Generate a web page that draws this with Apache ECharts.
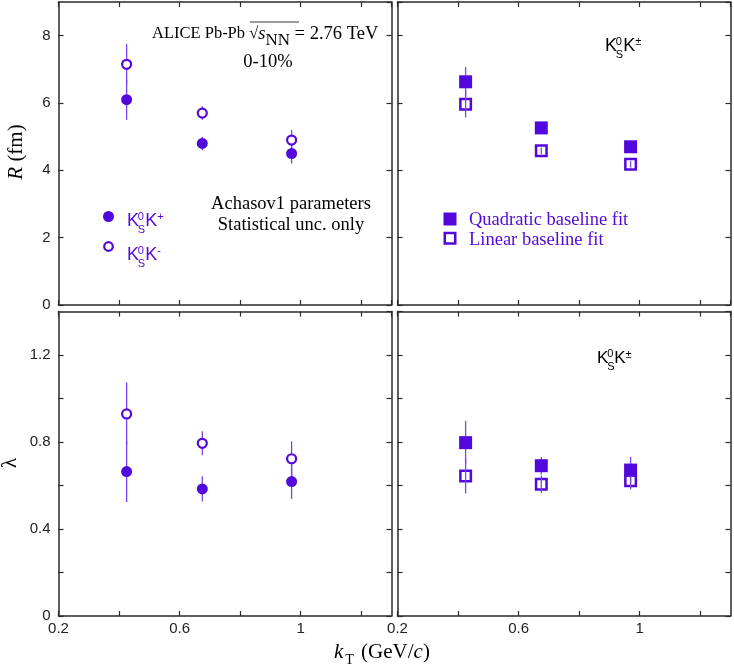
<!DOCTYPE html>
<html>
<head>
<meta charset="utf-8">
<script src="https://cdn.jsdelivr.net/npm/echarts@6/dist/echarts.min.js"></script>
<style>
html, body { margin: 0; padding: 0; background: #fff; }
#main { width: 734px; height: 671px; }
</style>
</head>
<body>
<div id="main"></div>
<script>
// kT bin centres (GeV/c)
var kT = [0.425, 0.675, 0.97];

// R (fm), Achasov1 parameters
var R_plus = [6.1, 4.8, 4.5];
var R_plus_err = [0.6, 0.2, 0.3];
var R_minus = [7.15, 5.7, 4.9];
var R_minus_err = [0.6, 0.2, 0.3];
var R_quad = [6.63, 5.26, 4.7];
var R_quad_err = [0.44, 0.1, 0.1];
var R_lin = [5.96, 4.58, 4.18];
var R_lin_err = [0.39, 0.1, 0.1];

// lambda
var lam_plus = [0.664, 0.584, 0.618];
var lam_plus_err = [0.14, 0.058, 0.08];
var lam_minus = [0.929, 0.794, 0.723];
var lam_minus_err = [0.145, 0.055, 0.08];
var lam_quad = [0.797, 0.691, 0.671];
var lam_quad_err = [0.1, 0.04, 0.06];
var lam_lin = [0.644, 0.606, 0.622];
var lam_lin_err = [0.08, 0.04, 0.04];

var purple = '#5208dc';
var barColor = '#7a44f0';
var axisColor = '#2a2a2a';
var serif = '"Liberation Serif", "Times New Roman", serif';
var sans = '"Liberation Sans", Arial, sans-serif';

var myChart = echarts.init(document.getElementById('main'));

var grids = [
    {left: 58.5, top: 2, width: 333, height: 303},
    {left: 397.5, top: 2, width: 333, height: 303},
    {left: 58.5, top: 311.5, width: 333, height: 304.5},
    {left: 397.5, top: 311.5, width: 333, height: 304.5}
];

function isStep(v, base, step) {
    var r = (v - base) / step;
    return Math.abs(r - Math.round(r)) < 1e-6;
}

var xAxes = [], yAxes = [];
// primary axes are index 2*g, mirror axes 2*g+1
for (var g = 0; g < 4; g++) {
    var bottomRow = g >= 2;
    var leftCol = g % 2 === 0;
    [false, true].forEach(function (mirror) {
        xAxes.push({
            type: 'value', gridIndex: g, min: 0.2, max: 1.3, interval: 0.2,
            position: mirror ? 'top' : 'bottom',
            axisLine: {show: true, onZero: false, lineStyle: {color: axisColor, width: 1.5}},
            axisTick: {show: true, inside: true, length: 5, lineStyle: {color: axisColor, width: 1.2}},
            splitLine: {show: false},
            axisLabel: {
                show: !mirror && bottomRow, margin: 5, color: '#222', fontSize: 15, fontFamily: sans,
                showMaxLabel: false,
                formatter: function (v) { return isStep(v, 0.2, 0.4) ? String(+v.toFixed(1)) : ''; }
            }
        });
        yAxes.push({
            type: 'value', gridIndex: g,
            min: 0, max: bottomRow ? 1.4 : 9, interval: bottomRow ? 0.2 : 2,
            position: mirror ? 'right' : 'left',
            axisLine: {show: true, onZero: false, lineStyle: {color: axisColor, width: 1.5}},
            axisTick: {show: true, inside: true, length: 5, lineStyle: {color: axisColor, width: 1.2}},
            splitLine: {show: false},
            axisLabel: {
                show: !mirror && leftCol, margin: 8, color: '#222', fontSize: 15, fontFamily: sans,
                showMaxLabel: false,
                formatter: function (v) {
                    if (bottomRow) return isStep(v, 0, 0.4) ? String(+v.toFixed(1)) : '';
                    return String(v);
                }
            }
        });
    });
}

function pts(xs, ys) {
    return xs.map(function (x, i) { return [x, ys[i]]; });
}
function errs(xs, ys, es) {
    return xs.map(function (x, i) { return [x, ys[i], es[i]]; });
}

function errorSeries(g, ys, es) {
    return {
        type: 'custom', xAxisIndex: 2 * g, yAxisIndex: 2 * g, z: 2,
        data: errs(kT, ys, es),
        encode: {x: 0, y: 1},
        renderItem: function (params, api) {
            var x = api.value(0), y = api.value(1), e = api.value(2);
            var p1 = api.coord([x, y - e]);
            var p2 = api.coord([x, y + e]);
            return {
                type: 'line',
                shape: {x1: p1[0], y1: p1[1], x2: p2[0], y2: p2[1]},
                style: {stroke: barColor, lineWidth: 1.3}
            };
        }
    };
}

function markerSeries(g, ys, kind) {
    var s = {
        type: 'scatter', xAxisIndex: 2 * g, yAxisIndex: 2 * g,
        data: pts(kT, ys), silent: true
    };
    if (kind === 'fullCircle') {
        s.symbol = 'circle'; s.symbolSize = 11; s.z = 3;
        s.itemStyle = {color: purple, opacity: 1};
    } else if (kind === 'openCircle') {
        s.symbol = 'circle'; s.symbolSize = 9; s.z = 3;
        s.itemStyle = {color: '#fff', borderColor: purple, borderWidth: 2.2, opacity: 1};
    } else if (kind === 'fullSquare') {
        s.symbol = 'rect'; s.symbolSize = 13; s.z = 3;
        s.itemStyle = {color: purple, opacity: 1};
    } else {
        s.symbol = 'rect'; s.symbolSize = 10.5; s.z = 1;
        s.itemStyle = {color: 'rgba(0,0,0,0)', borderColor: purple, borderWidth: 2.5, opacity: 1};
    }
    return s;
}

var series = [
    errorSeries(0, R_plus, R_plus_err), errorSeries(0, R_minus, R_minus_err),
    markerSeries(0, R_plus, 'fullCircle'), markerSeries(0, R_minus, 'openCircle'),
    errorSeries(1, R_quad, R_quad_err), errorSeries(1, R_lin, R_lin_err),
    markerSeries(1, R_quad, 'fullSquare'), markerSeries(1, R_lin, 'openSquare'),
    errorSeries(2, lam_plus, lam_plus_err), errorSeries(2, lam_minus, lam_minus_err),
    markerSeries(2, lam_plus, 'fullCircle'), markerSeries(2, lam_minus, 'openCircle'),
    errorSeries(3, lam_quad, lam_quad_err), errorSeries(3, lam_lin, lam_lin_err),
    markerSeries(3, lam_quad, 'fullSquare'), markerSeries(3, lam_lin, 'openSquare')
];

// K0s K label built out of small text pieces (y = baseline)
function kaonLabel(x, y, sign, color, size) {
    var sm = Math.round(size * 0.62);
    var f = function (px) { return px + 'px ' + sans; };
    var txt = function (t, dx, dy, font) {
        return {type: 'text', x: x + dx, y: y + dy,
            style: {text: t, font: font, fill: color, textVerticalAlign: 'bottom'}};
    };
    return {
        type: 'group', children: [
            txt('K', 0, 0, f(size)),
            txt('0', size * 0.6, -size * 0.42, f(sm)),
            txt('S', size * 0.6, size * 0.3, f(sm)),
            txt('K', size * 1.02, 0, f(size)),
            txt(sign, size * 1.68, -size * 0.4, f(sm))
        ]
    };
}

var graphic = [
    // header text
    {type: 'text', x: 152, y: 34, style: {
        text: '{p|ALICE Pb-Pb \u221A}{i|s}{sub|NN}{n| = 2.76 TeV}',
        textVerticalAlign: 'middle',
        rich: {
            p: {font: '16.5px ' + serif, fill: '#000'},
            n: {font: '18.5px ' + serif, fill: '#000'},
            i: {font: 'italic 18.5px ' + serif, fill: '#000'},
            sub: {font: '17px ' + serif, fill: '#000', padding: [13, 0, 0, 0]}
        }
    }},
    {type: 'line', shape: {x1: 250, y1: 22, x2: 299, y2: 22}, style: {stroke: '#000', lineWidth: 0.8}},
    {type: 'text', x: 268, y: 62, style: {text: '0-10%', font: '18.5px ' + serif, fill: '#000',
        textAlign: 'center', textVerticalAlign: 'middle'}},
    {type: 'text', x: 291, y: 204, style: {text: 'Achasov1 parameters', font: '18.5px ' + serif, fill: '#000',
        textAlign: 'center', textVerticalAlign: 'middle'}},
    {type: 'text', x: 291, y: 225, style: {text: 'Statistical unc. only', font: '18.5px ' + serif, fill: '#000',
        textAlign: 'center', textVerticalAlign: 'middle'}},

    // left legend
    {type: 'circle', shape: {cx: 108.5, cy: 216.5, r: 5.5}, style: {fill: purple}},
    {type: 'circle', shape: {cx: 108.5, cy: 246.5, r: 4.3}, style: {fill: '#fff', stroke: purple, lineWidth: 2.2}},
    kaonLabel(127, 230, '+', purple, 18),
    kaonLabel(127, 264, '-', purple, 18),

    // right legend
    {type: 'rect', shape: {x: 443.5, y: 212.5, width: 13, height: 13}, style: {fill: purple}},
    {type: 'rect', shape: {x: 444.75, y: 233, width: 10.5, height: 10.5}, style: {fill: '#fff', stroke: purple, lineWidth: 2.5}},
    {type: 'text', x: 469, y: 220, style: {text: 'Quadratic baseline fit', font: '18.5px ' + serif, fill: purple,
        textVerticalAlign: 'middle'}},
    {type: 'text', x: 469, y: 240, style: {text: 'Linear baseline fit', font: '18.5px ' + serif, fill: purple,
        textVerticalAlign: 'middle'}},

    kaonLabel(605, 55, '\u00B1', '#000', 18),
    kaonLabel(597, 367, '\u00B1', '#000', 17),

    // axis titles
    {type: 'text', x: 16, y: 152, rotation: Math.PI / 2, style: {
        text: '{i|R}{n| (fm)}', textAlign: 'center', textVerticalAlign: 'middle',
        rich: {i: {font: 'italic 21px ' + serif, fill: '#000'}, n: {font: '21px ' + serif, fill: '#000'}}
    }},
    {type: 'text', x: 10, y: 463, rotation: Math.PI / 2, style: {
        text: '\u03BB', font: '21px ' + serif, fill: '#000', textAlign: 'center', textVerticalAlign: 'middle'
    }},
    {type: 'text', x: 334, y: 652, style: {
        text: '{i|k}{sub|T}{n| (GeV/}{i|c}{n|)}', textVerticalAlign: 'middle',
        rich: {
            i: {font: 'italic 21px ' + serif, fill: '#000'},
            n: {font: '21px ' + serif, fill: '#000'},
            sub: {font: '14px ' + serif, fill: '#000', padding: [16, 2, 0, 2]}
        }
    }}
];

var option = {
    backgroundColor: '#fff',
    animation: false,
    grid: grids,
    xAxis: xAxes,
    yAxis: yAxes,
    series: series,
    graphic: graphic
};

myChart.setOption(option);
</script>
</body>
</html>
